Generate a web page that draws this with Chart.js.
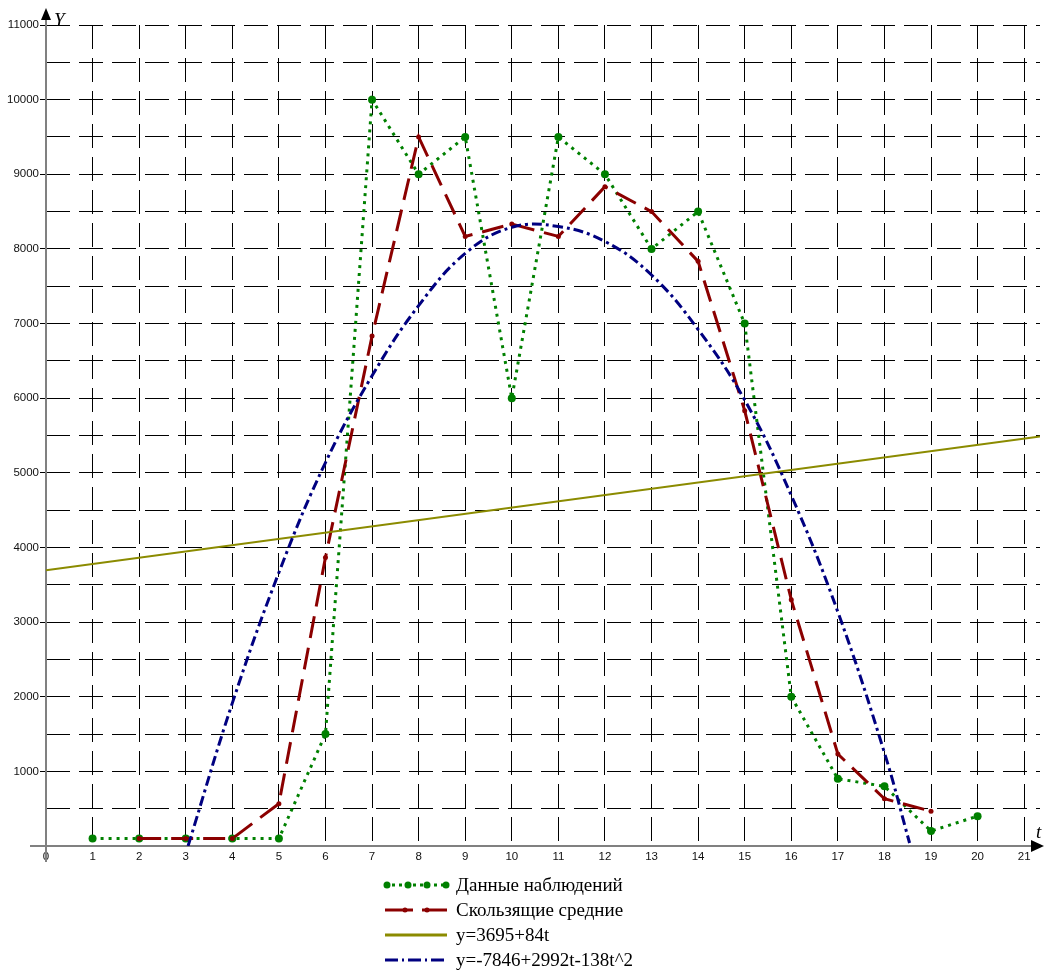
<!DOCTYPE html>
<html>
<head>
<meta charset="utf-8">
<script src="https://cdn.jsdelivr.net/npm/chart.js@4.4.1/dist/chart.umd.min.js"></script>
<style>
  html, body { margin: 0; padding: 0; background: #fff; }
  #wrap { position: relative; width: 1044px; height: 972px; }
  #legend { position: absolute; left: 382px; top: 872px; font-family: 'Liberation Serif', 'DejaVu Serif', serif; font-size: 19px; color: #000; }
  .row { height: 25px; display: flex; align-items: center; }
  .row svg { width: 70px; height: 12px; margin-right: 4px; }
</style>
</head>
<body>
<div id="wrap">
  <canvas id="c" width="1044" height="972"></canvas>
  <div id="legend">
    <div class="row"><svg viewBox="0 0 70 12"><line x1="3" y1="6" x2="66" y2="6" stroke="#008000" stroke-width="3" stroke-dasharray="3 4"/><circle cx="5" cy="6" r="3.5" fill="#008000"/><circle cx="26" cy="6" r="3.5" fill="#008000"/><circle cx="45" cy="6" r="3.5" fill="#008000"/><circle cx="64" cy="6" r="3.5" fill="#008000"/></svg><span>Данные наблюдений</span></div>
    <div class="row"><svg viewBox="0 0 70 12"><line x1="3" y1="6" x2="31" y2="6" stroke="#8b0000" stroke-width="3"/><line x1="40" y1="6" x2="65" y2="6" stroke="#8b0000" stroke-width="3"/><circle cx="23" cy="6" r="2.5" fill="#8b0000"/><circle cx="45" cy="6" r="2.5" fill="#8b0000"/></svg><span>Скользящие средние</span></div>
    <div class="row"><svg viewBox="0 0 70 12"><line x1="3" y1="6" x2="65" y2="6" stroke="#8b8b00" stroke-width="3"/></svg><span>y=3695+84t</span></div>
    <div class="row"><svg viewBox="0 0 70 12"><line x1="3" y1="6" x2="65" y2="6" stroke="#000080" stroke-width="3" stroke-dasharray="13 4 2 4"/></svg><span>y=-7846+2992t-138t^2</span></div>
  </div>
</div>
<script>
// ---- data ----
const obsT = [1,2,3,4,5,6,7,8,9,10,11,12,13,14,15,16,17,18,19,20];
const obsY = [100,100,100,100,100,1500,10000,9000,9500,6000,9500,9000,8000,8500,7000,2000,900,800,200,400];

const maT = [2,3,4,5,6,7,8,9,10,11,12,13,14,15,16,17,18,19];
const maY = [100,100,100,567,3867,6833,9500,8167,8333,8167,8833,8500,7833,5833,3300,1233,633,467];

const trendT = [0, 21.34];
const trendY = [3695, 5488];

const quadT = [3.05,4,5,6,7,8,9,10,11,12,13,14,15,16,17,18,18.54];
const quadY = [0,1914,3664,5138,6300,7240,7940,8290,8300,8100,7650,6920,5975,4698,3136,1250,40];

const xTicks = [0,1,2,3,4,5,6,7,8,9,10,11,12,13,14,15,16,17,18,19,20,21];
const yTickLabels = [0,1000,2000,3000,4000,5000,6000,7000,8000,9000,10000,11000];

function pts(t, y) { return t.map((v, i) => ({ x: v, y: y[i] })); }

const axesPlugin = {
  id: 'axesArrows',
  beforeDatasetsDraw(chart) {
    const ctx = chart.ctx;
    const x0 = chart.scales.x.getPixelForValue(0);
    const y0 = chart.scales.y.getPixelForValue(0);
    ctx.save();
    ctx.strokeStyle = '#808080';
    ctx.lineWidth = 2;
    ctx.beginPath();
    ctx.moveTo(30, y0); ctx.lineTo(1034, y0);
    ctx.moveTo(x0, 14); ctx.lineTo(x0, 862);
    ctx.stroke();
    ctx.fillStyle = '#000';
    ctx.beginPath();
    ctx.moveTo(1044, y0); ctx.lineTo(1031, y0 - 6); ctx.lineTo(1031, y0 + 6); ctx.closePath(); ctx.fill();
    ctx.beginPath();
    ctx.moveTo(x0, 8); ctx.lineTo(x0 - 5, 20); ctx.lineTo(x0 + 5, 20); ctx.closePath(); ctx.fill();
    ctx.font = 'italic 19px "Liberation Serif", serif';
    ctx.textBaseline = 'alphabetic';
    ctx.textAlign = 'left';
    ctx.fillText('Y', 54, 26);
    ctx.fillText('t', 1036, 838);
    ctx.restore();
  }
};

new Chart(document.getElementById('c'), {
  type: 'line',
  data: {
    datasets: [
      { label: 'Данные наблюдений', data: pts(obsT, obsY), borderColor: '#008000', backgroundColor: '#008000',
        borderWidth: 3, borderDash: [3, 5], pointRadius: 4, pointBorderWidth: 0, tension: 0, order: 4 },
      { label: 'Скользящие средние', data: pts(maT, maY), borderColor: '#8b0000', backgroundColor: '#8b0000',
        borderWidth: 3, borderDash: [22, 10], pointRadius: 2.5, pointBorderWidth: 0, tension: 0, order: 3 },
      { label: 'y=3695+84t', data: pts(trendT, trendY), borderColor: '#8b8b00', backgroundColor: '#8b8b00',
        borderWidth: 2, pointRadius: 0, tension: 0, order: 2 },
      { label: 'y=-7846+2992t-138t^2', data: pts(quadT, quadY), borderColor: '#000080', backgroundColor: '#000080',
        borderWidth: 3, borderDash: [10, 4, 3, 4], pointRadius: 0, tension: 0.4, order: 1 }
    ]
  },
  options: {
    responsive: false,
    animation: false,
    layout: { padding: { top: 25, left: 0, right: 0, bottom: 106 } },
    plugins: { legend: { display: false }, tooltip: { enabled: false } },
    scales: {
      x: {
        type: 'linear', min: 0, max: 21.34,
        afterFit(s) { s.height = 20; },
        afterBuildTicks(s) { s.ticks = xTicks.map(v => ({ value: v })); },
        grid: {
          color: (c) => (c.tick && c.tick.value === 0) ? 'rgba(0,0,0,0)' : '#000',
          lineWidth: 1, drawTicks: false, tickLength: 0
        },
        border: { display: false, dash: [24, 9] },
        ticks: { padding: 4, color: '#111', font: { family: '"Liberation Sans", Arial, sans-serif', size: 11.5 },
          callback: (v) => String(v) }
      },
      y: {
        type: 'linear', min: 0, max: 11000,
        afterFit(s) { s.width = 46; },
        afterBuildTicks(s) {
          const t = [];
          for (let v = 0; v <= 11000; v += 500) t.push({ value: v });
          s.ticks = t;
        },
        grid: {
          color: (c) => (c.tick && c.tick.value === 0) ? 'rgba(0,0,0,0)' : '#000',
          tickColor: (c) => (c.tick && c.tick.value % 1000 === 0 && c.tick.value !== 0) ? '#000' : 'rgba(0,0,0,0)',
          lineWidth: 1, tickLength: 6
        },
        border: { display: false, dash: [24, 9] },
        ticks: { padding: 1, color: '#111', font: { family: '"Liberation Sans", Arial, sans-serif', size: 11.5 },
          callback: (v) => (v !== 0 && yTickLabels.includes(v)) ? String(v) : '' }
      }
    }
  },
  plugins: [axesPlugin]
});
</script>
</body>
</html>
